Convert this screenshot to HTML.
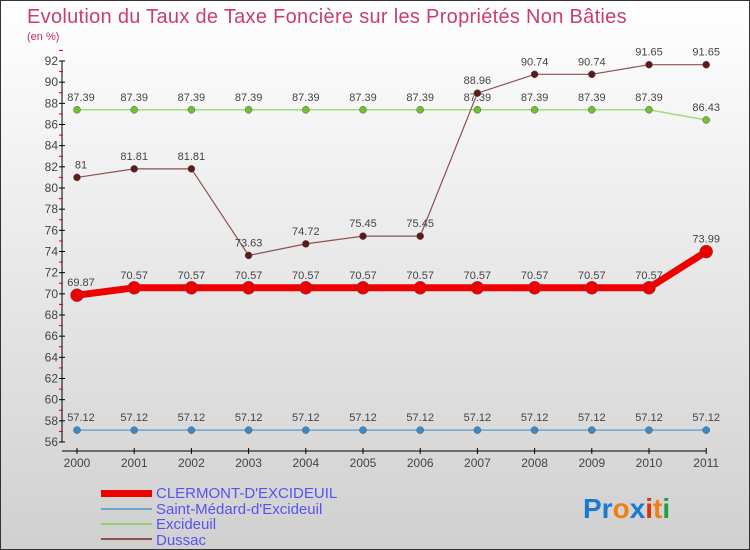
<!DOCTYPE html>
<html><head><meta charset="utf-8"><style>
body{margin:0}
#c{width:750px;height:550px;position:relative;overflow:hidden;background:linear-gradient(#ffffff,#d0d0d0);font-family:"Liberation Sans",sans-serif;box-sizing:border-box;border:1px solid #333}
</style></head><body>
<div id="c">
<svg id="s" width="750" height="550" style="position:absolute;left:0;top:0">
<text x="26" y="22" font-size="20" fill="#c8406a" letter-spacing="0.3">Evolution du Taux de Taxe Foncière sur les Propriétés Non Bâties</text>
<text x="26" y="39" font-size="11" fill="#c0305a">(en %)</text>
<g id="ax"></g><g id="plot"></g>
<g>
<rect x="100" y="489" width="51" height="7" fill="#e00"/>
<text x="155" y="497" font-size="15" fill="#5555ee">CLERMONT-D'EXCIDEUIL</text>
<rect x="100" y="507" width="51" height="2" fill="#6fa3c8"/>
<text x="155" y="513" font-size="15" fill="#5555ee">Saint-Médard-d'Excideuil</text>
<rect x="100" y="522" width="51" height="2" fill="#90d070"/>
<text x="155" y="528" font-size="15" fill="#5555ee">Excideuil</text>
<rect x="100" y="537" width="51" height="2" fill="#905050"/>
<text x="155" y="544" font-size="15" fill="#5555ee">Dussac</text>
</g>
<text x="582" y="517" font-size="28" font-weight="bold"><tspan fill="#1a7ad0">Pr</tspan><tspan fill="#f08010">o</tspan><tspan fill="#1a7ad0">x</tspan><tspan fill="#e03010">i</tspan><tspan fill="#f08010">t</tspan><tspan fill="#20a040">i</tspan></text>
</svg>
</div>
<script>
const years=["2000","2001","2002","2003","2004","2005","2006","2007","2008","2009","2010","2011"];
const clermont=[69.87,70.57,70.57,70.57,70.57,70.57,70.57,70.57,70.57,70.57,70.57,73.99];
const saintMedard=[57.12,57.12,57.12,57.12,57.12,57.12,57.12,57.12,57.12,57.12,57.12,57.12];
const excideuil=[87.39,87.39,87.39,87.39,87.39,87.39,87.39,87.39,87.39,87.39,87.39,86.43];
const dussac=[81,81.81,81.81,73.63,74.72,75.45,75.45,88.96,90.74,90.74,91.65,91.65];
const yTicks=[56,58,60,62,64,66,68,70,72,74,76,78,80,82,84,86,88,90,92];
const NS="http://www.w3.org/2000/svg";
const X=i=>76+i*57.2, Y=v=>441-(v-56)*(381/36);
function mk(t,a,p){const e=document.createElementNS(NS,t);for(const k in a)e.setAttribute(k,a[k]);p.appendChild(e);return e;}
const ax=document.getElementById('ax'),pl=document.getElementById('plot');
let l=mk('line',{x1:61,y1:Y(92),x2:61,y2:Y(56),stroke:'#000'},ax);


l=mk('line',{x1:61,y1:450,x2:X(11),y2:450,stroke:'#000'},ax);


yTicks.forEach(v=>{
 mk('line',{x1:58,y1:Y(v),x2:64,y2:Y(v),stroke:'#000'},ax);
 mk('line',{x1:58,y1:Y(v+1),x2:62,y2:Y(v+1),stroke:'#d00'},ax);
 const t=mk('text',{x:57,y:Y(v)+4,'font-size':12,fill:'#444','text-anchor':'end'},ax);t.textContent=v;
 
 
});
years.forEach((y,i)=>{
 mk('line',{x1:X(i),y1:447,x2:X(i),y2:453,stroke:'#000'},ax);
 const t=mk('text',{x:X(i),y:466,'font-size':12,fill:'#444','text-anchor':'middle'},ax);t.textContent=y;
 
 
});
function series(d,col,w,r,dot,name){
 const p=mk('polyline',{points:d.map((v,i)=>X(i)+','+Y(v)).join(' '),fill:'none',stroke:col,'stroke-width':w},pl);
 
 
 d.forEach((v,i)=>{
  const c=mk('circle',{cx:X(i),cy:Y(v),r:r,fill:dot,stroke:'#555','stroke-width':0.5},pl);
  
  
  const t=mk('text',{x:X(i)+(i===0?4:0),y:Y(v)-9,'font-size':11,fill:'#444','text-anchor':'middle'},pl);t.textContent=v;
  
  
 });
}
series(saintMedard,'#6fa3c8',1.5,3.5,'#3a8ac8','saint-medard');
series(excideuil,'#a0dc80',1.5,3.5,'#70c030','excideuil');
series(dussac,'#905050',1.2,3.5,'#601818','dussac');
series(clermont,'#ee0000',7,6.5,'#ee0000','clermont');
</script>
</body></html>
